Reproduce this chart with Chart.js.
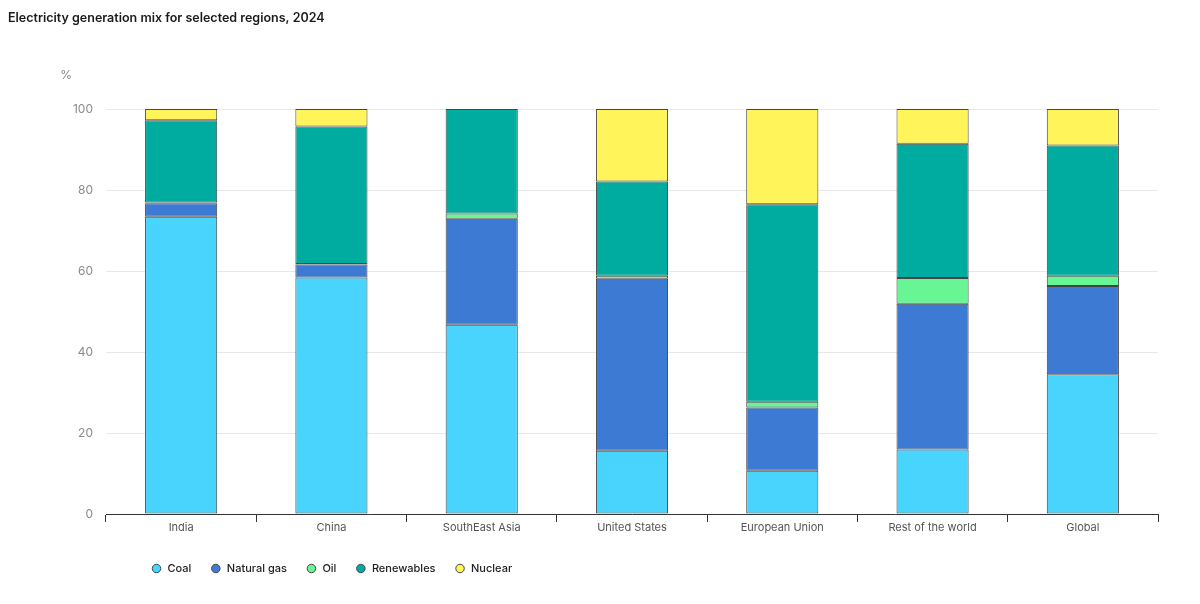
<!DOCTYPE html>
<html>
<head>
<meta charset="utf-8">
<script src="https://cdn.jsdelivr.net/npm/chart.js@4/dist/chart.umd.min.js"></script>
<style>
  html, body { margin: 0; padding: 0; background: #fff; }
  #wrap { position: relative; width: 1200px; height: 604px; }
</style>
</head>
<body>
<div id="wrap"><canvas id="c" width="1200" height="604"></canvas></div>
<script>
const categories = ["India", "China", "SouthEast Asia", "United States", "European Union", "Rest of the world", "Global"];
const coal       = [73.4, 58.4, 46.7, 15.6, 10.7, 15.9, 34.5];
const naturalGas = [3.3, 3.2, 26.2, 42.5, 15.6, 36.0, 21.8];
const oil        = [0.2, 0.1, 1.3, 0.7, 1.4, 6.4, 2.5];
const renewables = [20.3, 34.0, 25.8, 23.3, 48.8, 33.1, 32.2];
const nuclear    = [2.8, 4.3, 0, 17.9, 23.5, 8.6, 9.0];
const yTicks = [0, 20, 40, 60, 80, 100];

const FONT = "Inter, 'Noto Sans', sans-serif";

const pctPlugin = {
  id: 'pctLabel',
  afterDraw(chart) {
    const ctx = chart.ctx;
    ctx.save();
    ctx.font = "12px " + FONT;
    ctx.fillStyle = "#8a8a8a";
    ctx.textAlign = "right";
    ctx.textBaseline = "middle";
    ctx.fillText("%", chart.scales.y.right - 34, 75);
    ctx.restore();
  }
};
const legendShift = {
  id: 'legendShift',
  afterLayout(chart) {
    if (chart.legend) { chart.legend.left = 132; }
  }
};

const border = '#444';
function ds(label, data, color) {
  return { label, data, backgroundColor: color, borderColor: border, borderWidth: 1, borderSkipped: false,
           barPercentage: 0.48, categoryPercentage: 1.0 };
}

new Chart(document.getElementById('c'), {
  type: 'bar',
  data: {
    labels: categories,
    datasets: [
      ds('Coal', coal, '#49d4fe'),
      ds('Natural gas', naturalGas, '#3d7ad4'),
      ds('Oil', oil, '#68f593'),
      ds('Renewables', renewables, '#00ac9f'),
      ds('Nuclear', nuclear, '#fff45a')
    ]
  },
  options: {
    responsive: false,
    animation: false,
    devicePixelRatio: 1,
    layout: { padding: { left: 8, right: 42, top: 11, bottom: 20 } },
    plugins: {
      title: {
        display: true, text: 'Electricity generation mix for selected regions, 2024',
        align: 'start', color: '#1a1a1a',
        font: { family: FONT, size: 12.5, weight: '600' },
        padding: { top: 0, bottom: 83 }
      },
      legend: {
        position: 'bottom', align: 'start',
        labels: {
          usePointStyle: true, pointStyle: 'circle', boxWidth: 11, boxHeight: 6,
          padding: 19, color: '#222',
          font: { family: FONT, size: 11, weight: '500' }
        }
      },
      tooltip: { enabled: false }
    },
    scales: {
      x: {
        stacked: true,
        grid: { display: true, drawOnChartArea: false, drawTicks: true, tickLength: 8, color: '#333', offset: true },
        border: { display: true, color: '#333', width: 1 },
        ticks: { color: '#555', font: { family: FONT, size: 11 }, padding: -1, maxRotation: 0 },
        afterFit(s) { s.height = 30; }
      },
      y: {
        stacked: true, min: 0, max: 100,
        afterBuildTicks(s) { s.ticks = yTicks.map(v => ({ value: v })); },
        grid: { color: '#e8e8e8', drawTicks: false, lineWidth: 1 },
        border: { display: false },
        ticks: { color: '#8a8a8a', font: { family: FONT, size: 12 }, padding: 13 },
        afterFit(s) { s.width = 98; }
      }
    }
  },
  plugins: [pctPlugin, legendShift]
});
</script>
</body>
</html>
